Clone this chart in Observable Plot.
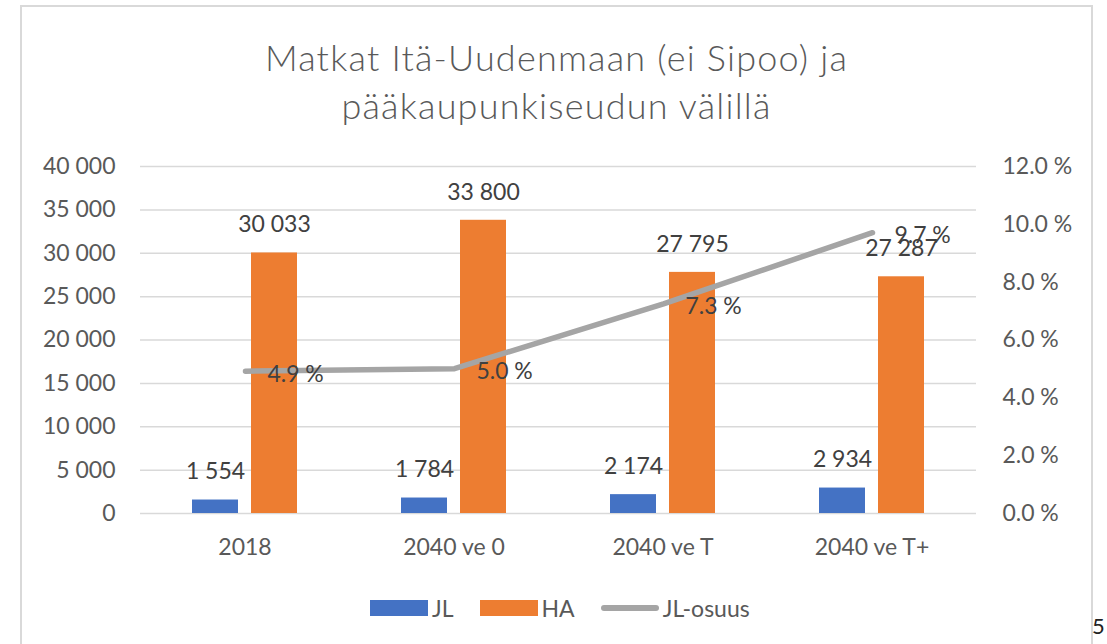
<!DOCTYPE html>
<html><head><meta charset="utf-8">
<script src="https://cdn.jsdelivr.net/npm/d3@7"></script>
<script src="https://cdn.jsdelivr.net/npm/@observablehq/plot@0.6"></script>
<style>
body{margin:0;background:#fff;font-family:Lato,sans-serif;}
#wrap{position:relative;width:1107px;height:644px;overflow:hidden;background:#fff;}
#frame{position:absolute;left:20px;top:5px;width:1069px;height:700px;border:2px solid #d9d9d9;}
#title{position:absolute;left:22px;width:1069px;top:33px;text-align:center;font-size:36px;font-weight:300;letter-spacing:1.2px;color:#595959;line-height:48px;}
#bars,#line{position:absolute;left:0;top:150px;}
#legend{position:absolute;left:370px;top:594px;display:flex;align-items:center;font-size:23px;color:#595959;}
#legend .sw{display:inline-block;width:58px;height:16px;margin-right:4px;}
#legend .ln{display:inline-block;width:58px;height:6px;border-radius:3px;background:#A5A5A5;margin-right:4px;}
#legend .it{display:flex;align-items:center;margin-right:26px;}
#page{position:absolute;left:1092px;top:612px;font-size:22px;color:#222;}
</style>
</head><body>
<div id="wrap">
  <div id="frame"></div>
  <div id="title">Matkat Itä-Uudenmaan (ei Sipoo) ja<br>pääkaupunkiseudun välillä</div>
  <div id="bars"></div>
  <div id="line"></div>
  <div id="legend"></div>
  <div id="page">5</div>
</div>
<script>
const categories = ["2018", "2040 ve 0", "2040 ve T", "2040 ve T+"];
const seriesNames = ["JL", "HA"];
const jlValues = [1554, 1784, 2174, 2934];
const haValues = [30033, 33800, 27795, 27287];
const shareValues = [4.92, 5.01, 7.25, 9.71];
const shareLabel = "JL-osuus";
const leftTicks = [0, 5000, 10000, 15000, 20000, 25000, 30000, 35000, 40000];
const rightTicks = [0, 2, 4, 6, 8, 10, 12];
const seriesColors = ["#4472C4", "#ED7D31"];
const lineColor = "#A5A5A5";

const loc = d3.formatLocale({decimal: ".", thousands: "\u00a0", grouping: [3], currency: ["", ""]});
const fmt = loc.format(",d");
const pct = d => d.toFixed(1) + "\u202f%";

const rows = categories.flatMap((c, i) => [
  {cat: c, series: "JL", value: jlValues[i]},
  {cat: c, series: "HA", value: haValues[i]}
]);
const shares = categories.map((c, i) => ({cat: c, share: shareValues[i]}));

const W = 1107, H = 420, ML = 140, MR = 131, MT = 16, MB = 57;

const bars = Plot.plot({
  width: W, height: H, marginLeft: ML, marginRight: MR, marginTop: MT, marginBottom: MB,
  style: {fontFamily: "Lato, sans-serif", fontSize: "23px", color: "#595959", background: "transparent", overflow: "visible"},
  fx: {domain: categories, padding: 0, label: null, tickSize: 0, tickPadding: 25},
  x: {domain: seriesNames, paddingInner: 0.22, paddingOuter: 0.88, axis: null},
  y: {domain: [0, 40000], ticks: leftTicks, tickFormat: fmt, tickSize: 0, tickPadding: 25, label: null},
  color: {domain: seriesNames, range: seriesColors},
  marks: [
    Plot.ruleY(leftTicks, {stroke: "#d9d9d9", strokeWidth: 1.5}),
    Plot.barY(rows, {fx: "cat", x: "series", y: "value", fill: "series"}),
    Plot.text(rows, {fx: "cat", x: "series", y: "value", text: d => fmt(d.value), dy: -28, fill: "#404040", fontSize: 23})
  ]
});
document.getElementById("bars").appendChild(bars);

const line = Plot.plot({
  width: W, height: H, marginLeft: ML, marginRight: MR, marginTop: MT, marginBottom: MB,
  style: {fontFamily: "Lato, sans-serif", fontSize: "23px", color: "#595959", background: "transparent", overflow: "visible"},
  x: {type: "point", domain: categories, padding: 0.5, axis: null},
  y: {domain: [0, 12], ticks: rightTicks, tickFormat: pct, axis: "right", tickSize: 0, tickPadding: 26, label: null},
  marks: [
    Plot.lineY(shares, {x: "cat", y: "share", stroke: lineColor, strokeWidth: 5.5, strokeLinecap: "round", strokeLinejoin: "round"}),
    Plot.text(shares, {x: "cat", y: "share", text: d => pct(d.share), textAnchor: "start", dx: 22, dy: 3, fill: "#404040", fontSize: 23})
  ]
});
document.getElementById("line").appendChild(line);

const legend = document.getElementById("legend");
seriesNames.forEach((s, i) => {
  const it = document.createElement("span"); it.className = "it";
  const sw = document.createElement("span"); sw.className = "sw"; sw.style.background = seriesColors[i];
  it.appendChild(sw); it.appendChild(document.createTextNode(s)); legend.appendChild(it);
});
{
  const it = document.createElement("span"); it.className = "it";
  const ln = document.createElement("span"); ln.className = "ln";
  it.appendChild(ln); it.appendChild(document.createTextNode(shareLabel)); legend.appendChild(it);
}
</script>
</body></html>
